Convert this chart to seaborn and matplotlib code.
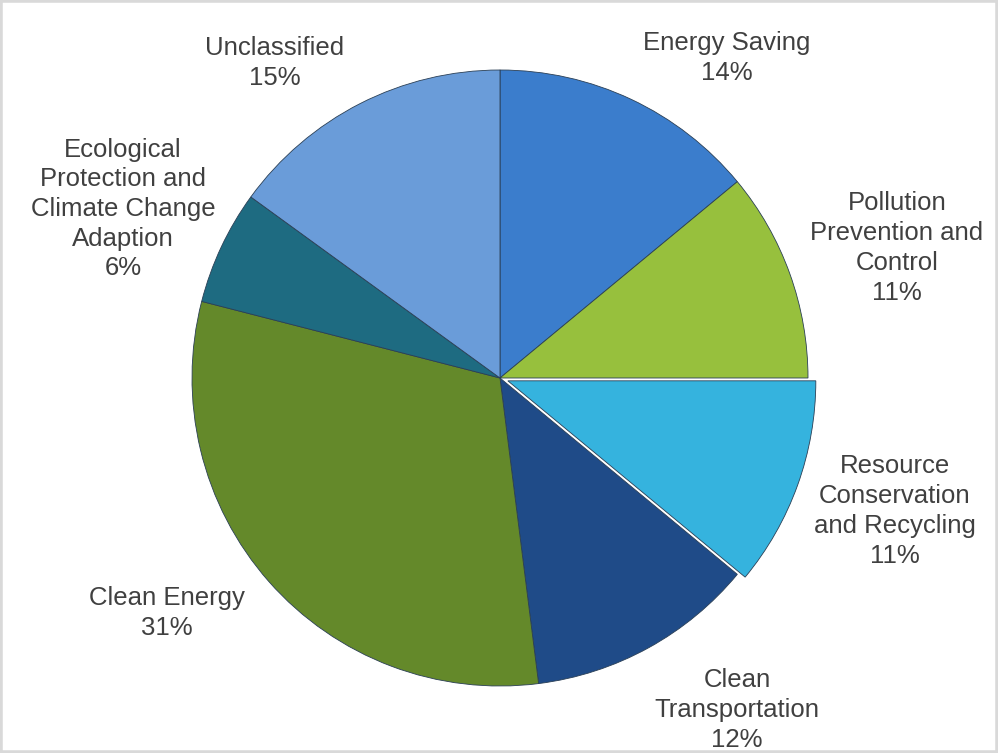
import matplotlib
matplotlib.use("Agg")
import matplotlib.pyplot as plt
import seaborn as sns
from matplotlib.patches import Rectangle

# data
categories = [
    "Energy Saving",
    "Pollution\nPrevention and\nControl",
    "Resource\nConservation\nand Recycling",
    "Clean\nTransportation",
    "Clean Energy",
    "Ecological\nProtection and\nClimate Change\nAdaption",
    "Unclassified",
]
shares = [14, 11, 11, 12, 31, 6, 15]

colors = ["#3b7dcc", "#97c03d", "#35b3de", "#1f4b88", "#64892a", "#1e6b81", "#6a9cd9"]
explode = [0, 0, 0.027, 0, 0, 0, 0]

# label centres in pixels of the 998x753 picture (layout only)
label_px = [(727, 58), (897, 248), (895, 511), (737, 710), (167, 613), (123, 209), (275, 63)]

sns.set_theme(style="white")
plt.rcParams["font.family"] = ["Liberation Sans", "DejaVu Sans"]

W, H = 998, 753
cx, cy, r = 500, 378, 308

fig = plt.figure(figsize=(W / 100, H / 100), dpi=100)
ax = fig.add_axes([0, 0, 1, 1])

wedges, _ = ax.pie(
    shares,
    colors=colors,
    startangle=90,
    counterclock=False,
    explode=explode,
    radius=1.0,
    wedgeprops=dict(edgecolor="#2a3f55", linewidth=0.6),
)

# pie() resets the limits, so set them afterwards
ax.set_xlim(-cx / r, (W - cx) / r)
ax.set_ylim(-(H - cy) / r, cy / r)
ax.set_aspect("equal")
ax.axis("off")

for name, val, (px, py) in zip(categories, shares, label_px):
    ax.text((px - cx) / r, (cy - py) / r, f"{name}\n{val}%",
            ha="center", va="center", fontsize=18.5, color="#404040",
            linespacing=1.3)

fig.patches.append(Rectangle((0, 0), 1, 1, transform=fig.transFigure,
                             fill=False, edgecolor="#d9d9d9", linewidth=4))

fig.savefig("out.png", dpi=100)
